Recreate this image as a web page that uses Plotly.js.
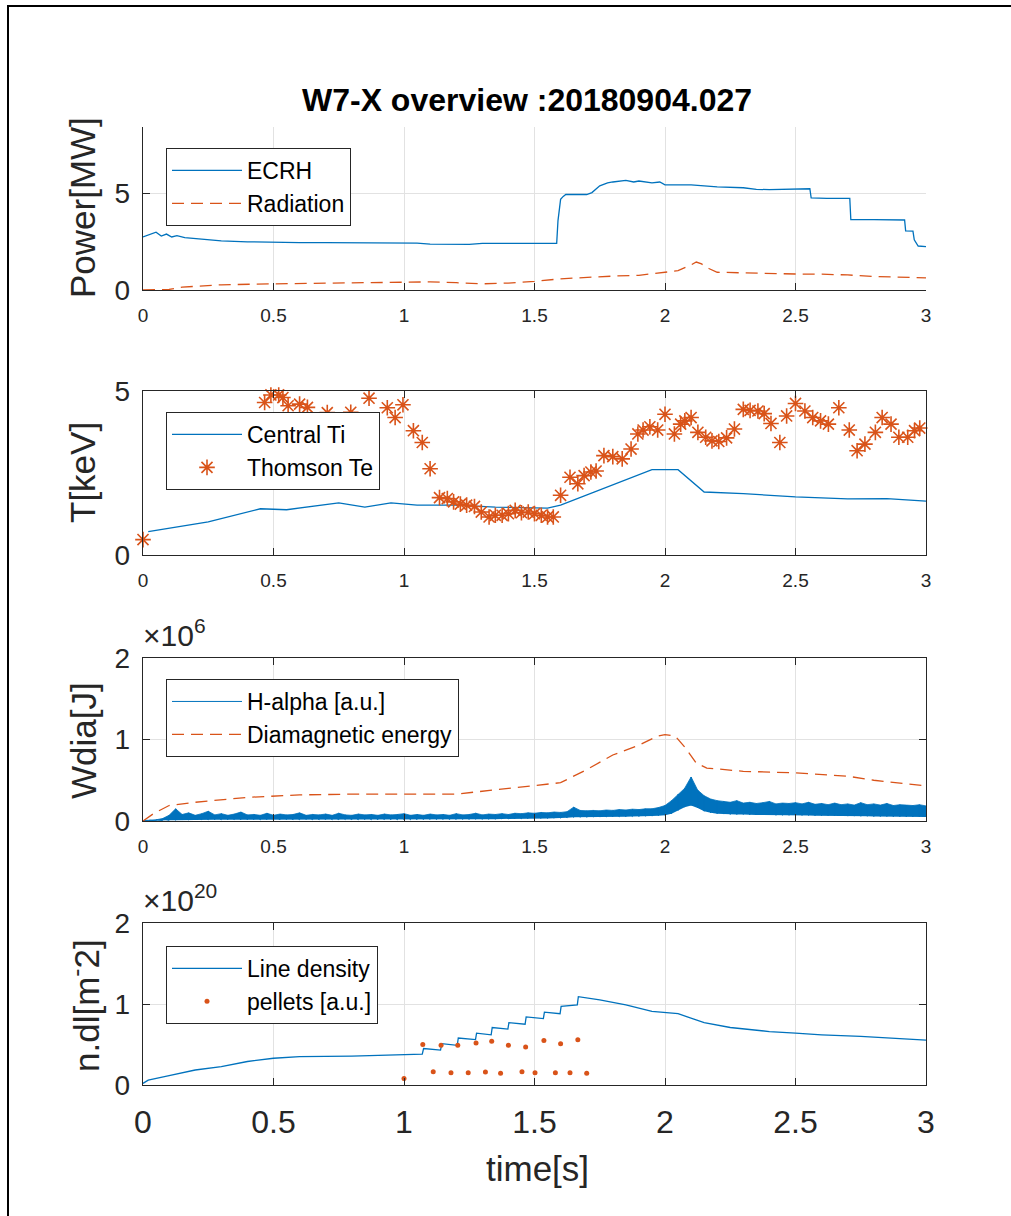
<!DOCTYPE html>
<html>
<head>
<meta charset="utf-8">
<script src="https://cdn.plot.ly/plotly-3.0.1.min.js"></script>
<style>
html,body{margin:0;padding:0;background:#fff;overflow:hidden;}
#wrap{position:relative;width:1011px;height:1216px;overflow:hidden;}
#chart{position:absolute;left:0;top:0;width:1011px;height:1216px;}
#frameL{position:absolute;left:7px;top:5px;width:2px;height:1211px;background:#000;pointer-events:none;}
#frameT{position:absolute;left:7px;top:5px;width:1004px;height:2px;background:#000;pointer-events:none;}
</style>
</head>
<body>
<div id="wrap"><div id="chart"></div><div id="frameL"></div><div id="frameT"></div></div>
<script>
// ---------------- DATA ----------------
// Panel 1: Power [MW]
const ecrhT = [0, 0.02, 0.05, 0.07, 0.09, 0.11, 0.13, 0.16, 0.2, 0.25, 0.3, 0.4, 0.5, 0.6, 0.7, 0.8, 0.9, 1.0, 1.05, 1.1, 1.2, 1.25, 1.3, 1.4, 1.5, 1.585, 1.59, 1.595, 1.6, 1.61, 1.62, 1.65, 1.7, 1.72, 1.75, 1.78, 1.8, 1.85, 1.88, 1.9, 1.95, 1.98, 2.0, 2.1, 2.2, 2.3, 2.35, 2.4, 2.5, 2.555, 2.56, 2.62, 2.708, 2.712, 2.8, 2.918, 2.922, 2.95, 2.955, 2.97, 3.0];
const ecrhV = [2.75, 2.85, 3.0, 2.8, 2.9, 2.75, 2.82, 2.72, 2.68, 2.62, 2.55, 2.5, 2.47, 2.46, 2.46, 2.45, 2.45, 2.45, 2.43, 2.38, 2.37, 2.37, 2.42, 2.42, 2.42, 2.42, 3.6, 4.2, 4.7, 4.85, 4.95, 4.95, 4.95, 5.05, 5.4, 5.55, 5.6, 5.68, 5.6, 5.65, 5.55, 5.6, 5.45, 5.45, 5.35, 5.3, 5.22, 5.2, 5.22, 5.25, 4.78, 4.75, 4.75, 3.65, 3.65, 3.63, 3.07, 3.05, 2.6, 2.28, 2.25];
const radT = [0, 0.1, 0.15, 0.2, 0.3, 0.5, 0.7, 1.0, 1.1, 1.2, 1.3, 1.4, 1.5, 1.6, 1.7, 1.8, 1.9, 2.0, 2.05, 2.1, 2.12, 2.14, 2.17, 2.2, 2.3, 2.5, 2.6, 2.7, 2.8, 2.9, 3.0];
const radV = [0.0, 0.03, 0.15, 0.2, 0.27, 0.32, 0.35, 0.4, 0.42, 0.38, 0.32, 0.36, 0.45, 0.58, 0.66, 0.72, 0.76, 0.9, 1.0, 1.3, 1.45, 1.35, 1.1, 0.92, 0.88, 0.83, 0.82, 0.78, 0.7, 0.65, 0.63];

// Panel 2: T [keV]
const tiT = [0.02, 0.25, 0.45, 0.55, 0.75, 0.85, 0.95, 1.05, 1.2, 1.35, 1.55, 1.6, 1.95, 2.05, 2.15, 2.3, 2.5, 2.7, 2.85, 3.0];
const tiV = [0.71, 1.01, 1.41, 1.38, 1.59, 1.46, 1.59, 1.52, 1.52, 1.46, 1.43, 1.52, 2.6, 2.6, 1.92, 1.87, 1.77, 1.71, 1.72, 1.64];
const teT = [0, 0.466, 0.49, 0.52, 0.536, 0.556, 0.6, 0.63, 0.706, 0.796, 0.866, 0.936, 0.966, 0.996, 1.036, 1.07, 1.1, 1.136, 1.166, 1.19, 1.216, 1.24, 1.27, 1.296, 1.326, 1.35, 1.376, 1.4, 1.426, 1.45, 1.476, 1.5, 1.526, 1.55, 1.572, 1.6, 1.636, 1.666, 1.69, 1.716, 1.736, 1.766, 1.8, 1.836, 1.87, 1.896, 1.916, 1.942, 1.972, 2.0, 2.036, 2.06, 2.076, 2.1, 2.126, 2.156, 2.18, 2.206, 2.236, 2.266, 2.3, 2.326, 2.356, 2.38, 2.406, 2.44, 2.466, 2.5, 2.536, 2.566, 2.596, 2.626, 2.666, 2.706, 2.736, 2.766, 2.806, 2.832, 2.866, 2.896, 2.93, 2.956, 2.976];
const teV = [0.47, 4.65, 4.88, 4.88, 4.8, 4.55, 4.6, 4.5, 4.34, 4.35, 4.78, 4.49, 4.19, 4.58, 3.79, 3.43, 2.63, 1.75, 1.72, 1.62, 1.55, 1.52, 1.48, 1.31, 1.16, 1.21, 1.21, 1.26, 1.36, 1.29, 1.31, 1.26, 1.21, 1.16, 1.16, 1.82, 2.37, 2.17, 2.42, 2.53, 2.56, 3.03, 3.0, 2.93, 3.23, 3.69, 3.81, 3.91, 3.81, 4.29, 3.69, 3.99, 4.09, 4.19, 3.74, 3.59, 3.48, 3.46, 3.57, 3.84, 4.44, 4.41, 4.39, 4.31, 4.01, 3.43, 4.24, 4.62, 4.39, 4.19, 4.09, 3.99, 4.49, 3.81, 3.18, 3.38, 3.74, 4.19, 3.99, 3.59, 3.59, 3.79, 3.87];

// Panel 3: Wdia [J] (values in units of 1e6)
const haT = [0, 0.025, 0.05, 0.075, 0.1, 0.125, 0.15, 0.175, 0.2, 0.225, 0.25, 0.275, 0.3, 0.325, 0.35, 0.375, 0.4, 0.425, 0.45, 0.475, 0.5, 0.525, 0.55, 0.575, 0.6, 0.625, 0.65, 0.675, 0.7, 0.725, 0.75, 0.775, 0.8, 0.825, 0.85, 0.875, 0.9, 0.925, 0.95, 0.975, 1.0, 1.025, 1.05, 1.075, 1.1, 1.125, 1.15, 1.175, 1.2, 1.225, 1.25, 1.275, 1.3, 1.325, 1.35, 1.375, 1.4, 1.425, 1.45, 1.475, 1.5, 1.525, 1.55, 1.575, 1.6, 1.625, 1.65, 1.675, 1.7, 1.725, 1.75, 1.775, 1.8, 1.825, 1.85, 1.875, 1.9, 1.925, 1.95, 1.975, 2.0, 2.025, 2.05, 2.075, 2.1, 2.125, 2.15, 2.175, 2.2, 2.225, 2.25, 2.275, 2.3, 2.325, 2.35, 2.375, 2.4, 2.425, 2.45, 2.475, 2.5, 2.525, 2.55, 2.575, 2.6, 2.625, 2.65, 2.675, 2.7, 2.725, 2.75, 2.775, 2.8, 2.825, 2.85, 2.875, 2.9, 2.925, 2.95, 2.975, 3.0];
const haLo = [0.000, 0.000, 0.002, 0.005, 0.008, 0.010, 0.012, 0.012, 0.015, 0.015, 0.015, 0.015, 0.015, 0.015, 0.018, 0.015, 0.015, 0.018, 0.015, 0.018, 0.015, 0.015, 0.018, 0.015, 0.015, 0.018, 0.015, 0.015, 0.018, 0.015, 0.015, 0.018, 0.015, 0.015, 0.018, 0.015, 0.015, 0.018, 0.015, 0.015, 0.018, 0.015, 0.018, 0.018, 0.020, 0.018, 0.020, 0.018, 0.020, 0.020, 0.020, 0.022, 0.020, 0.022, 0.022, 0.025, 0.025, 0.028, 0.028, 0.030, 0.030, 0.032, 0.032, 0.035, 0.035, 0.040, 0.045, 0.045, 0.045, 0.048, 0.048, 0.050, 0.050, 0.052, 0.052, 0.055, 0.055, 0.058, 0.060, 0.065, 0.070, 0.090, 0.130, 0.170, 0.190, 0.160, 0.120, 0.100, 0.090, 0.085, 0.080, 0.080, 0.080, 0.075, 0.075, 0.075, 0.075, 0.070, 0.070, 0.070, 0.070, 0.068, 0.068, 0.065, 0.065, 0.065, 0.062, 0.062, 0.060, 0.060, 0.058, 0.058, 0.055, 0.055, 0.055, 0.052, 0.052, 0.050, 0.050, 0.050, 0.050];
const haHi = [0.005, 0.010, 0.015, 0.030, 0.070, 0.150, 0.080, 0.100, 0.070, 0.090, 0.120, 0.075, 0.090, 0.070, 0.085, 0.110, 0.075, 0.080, 0.070, 0.095, 0.070, 0.085, 0.075, 0.080, 0.100, 0.070, 0.080, 0.075, 0.085, 0.070, 0.095, 0.075, 0.070, 0.085, 0.075, 0.080, 0.070, 0.085, 0.075, 0.080, 0.090, 0.070, 0.080, 0.070, 0.085, 0.075, 0.080, 0.070, 0.090, 0.075, 0.080, 0.095, 0.075, 0.085, 0.080, 0.090, 0.080, 0.095, 0.090, 0.100, 0.095, 0.105, 0.100, 0.110, 0.105, 0.115, 0.170, 0.130, 0.125, 0.130, 0.125, 0.135, 0.130, 0.140, 0.135, 0.145, 0.140, 0.150, 0.150, 0.165, 0.190, 0.250, 0.330, 0.400, 0.540, 0.380, 0.310, 0.270, 0.250, 0.240, 0.230, 0.250, 0.220, 0.230, 0.215, 0.225, 0.240, 0.210, 0.220, 0.215, 0.225, 0.210, 0.230, 0.205, 0.215, 0.200, 0.220, 0.200, 0.210, 0.195, 0.225, 0.200, 0.210, 0.195, 0.215, 0.190, 0.200, 0.195, 0.190, 0.200, 0.185];
const wdT = [0, 0.04, 0.1, 0.2, 0.4, 0.6, 0.8, 1.0, 1.2, 1.4, 1.55, 1.6, 1.7, 1.8, 1.9, 1.97, 2.0, 2.04, 2.08, 2.12, 2.16, 2.3, 2.5, 2.7, 2.8, 3.0];
const wdV = [0, 0.09, 0.19, 0.23, 0.29, 0.32, 0.33, 0.33, 0.33, 0.4, 0.45, 0.47, 0.63, 0.81, 0.93, 1.04, 1.06, 1.04, 0.89, 0.71, 0.65, 0.61, 0.59, 0.55, 0.5, 0.43];

// Panel 4: n.dl [m^-2] (values in units of 1e20)
const neT = [0, 0.02, 0.1, 0.2, 0.3, 0.4, 0.5, 0.6, 0.8, 1.0, 1.07, 1.075, 1.14, 1.145, 1.204, 1.208, 1.274, 1.278, 1.334, 1.338, 1.398, 1.402, 1.464, 1.468, 1.534, 1.538, 1.598, 1.602, 1.664, 1.668, 1.75, 1.85, 1.95, 2.05, 2.15, 2.25, 2.4, 2.5, 2.6, 2.75, 2.9, 3.0];
const neV = [0.02, 0.06, 0.115, 0.185, 0.226, 0.29, 0.33, 0.35, 0.357, 0.37, 0.38, 0.45, 0.43, 0.51, 0.49, 0.58, 0.56, 0.64, 0.62, 0.71, 0.69, 0.77, 0.75, 0.84, 0.82, 0.9, 0.88, 0.97, 0.99, 1.09, 1.05, 0.99, 0.91, 0.88, 0.77, 0.71, 0.66, 0.64, 0.62, 0.6, 0.57, 0.555];
const pelT = [1.0, 1.072, 1.112, 1.142, 1.18, 1.206, 1.246, 1.276, 1.312, 1.336, 1.37, 1.4, 1.452, 1.466, 1.502, 1.536, 1.58, 1.6, 1.636, 1.666, 1.7];
const pelV = [0.08, 0.50, 0.164, 0.49, 0.152, 0.49, 0.152, 0.52, 0.16, 0.54, 0.144, 0.49, 0.164, 0.47, 0.152, 0.55, 0.152, 0.51, 0.152, 0.56, 0.144];

// Tick labels
const xTicks = [0, 0.5, 1, 1.5, 2, 2.5, 3];
const xTickText = ['0', '0.5', '1', '1.5', '2', '2.5', '3'];

// ---------------- LAYOUT ----------------
const W = 1011, H = 1216;
const FONT = 'Liberation Sans, Arial, Helvetica, sans-serif';
const BLUE = '#0072BD', ORANGE = '#D95319', AX = '#262626', GRID = '#e2e2e2';
const px = v => v / W, py = v => 1 - v / H;
const xDom = [px(143), px(926)];

// build H-alpha zigzag from the envelope arrays
const haZx = [], haZy = [];
haT.forEach((t, i) => { haZx.push(t, t); haZy.push(haLo[i], haHi[i]); });

function xax(anchor, big, box) {
  return {
    domain: xDom, anchor: anchor, range: [0, 3],
    tickvals: xTicks, ticktext: xTickText,
    tickfont: {family: FONT, size: big ? 32 : 19, color: AX},
    ticks: 'inside', ticklen: 7, tickcolor: AX,
    showline: true, linecolor: AX, linewidth: 1.2, mirror: box ? 'ticks' : false,
    showgrid: true, gridcolor: GRID, zeroline: false,
    ticklabelstandoff: 8
  };
}
function yax(anchor, dom, range, vals, box) {
  return {
    domain: dom, anchor: anchor, range: range,
    tickvals: vals, ticktext: vals.map(String),
    tickfont: {family: FONT, size: 28, color: AX},
    ticks: 'inside', ticklen: 7, tickcolor: AX,
    showline: true, linecolor: AX, linewidth: 1.2, mirror: box ? 'ticks' : false,
    showgrid: true, gridcolor: GRID, zeroline: false,
    ticklabelstandoff: 6
  };
}

const legBase = {
  xanchor: 'left', yanchor: 'top', x: px(166),
  bgcolor: '#ffffff', bordercolor: AX, borderwidth: 1,
  font: {family: FONT, size: 23, color: '#000'},
  itemwidth: 70, tracegroupgap: 0, traceorder: 'normal'
};

const traces = [
  {x: ecrhT, y: ecrhV, xaxis: 'x', yaxis: 'y', type: 'scatter', mode: 'lines', name: 'ECRH',
   line: {color: BLUE, width: 1.3}, legend: 'legend'},
  {x: radT, y: radV, xaxis: 'x', yaxis: 'y', type: 'scatter', mode: 'lines', name: 'Radiation',
   line: {color: ORANGE, width: 1.3, dash: '12px,7px'}, legend: 'legend'},

  {x: tiT, y: tiV, xaxis: 'x2', yaxis: 'y2', type: 'scatter', mode: 'lines', name: 'Central Ti',
   line: {color: BLUE, width: 1.3}, legend: 'legend2'},
  {x: teT, y: teV, xaxis: 'x2', yaxis: 'y2', type: 'scatter', mode: 'markers', name: 'Thomson Te',
   marker: {symbol: 'asterisk-open', size: 13, color: ORANGE, line: {color: ORANGE, width: 1.6}},
   cliponaxis: false, legend: 'legend2'},

  {x: haT, y: haLo, xaxis: 'x3', yaxis: 'y3', type: 'scatter', mode: 'lines',
   line: {color: BLUE, width: 0}, showlegend: false, hoverinfo: 'skip', legend: 'legend3'},
  {x: haT, y: haHi, xaxis: 'x3', yaxis: 'y3', type: 'scatter', mode: 'lines', fill: 'tonexty',
   fillcolor: BLUE, line: {color: BLUE, width: 0.8}, showlegend: false, hoverinfo: 'skip', legend: 'legend3'},
  {x: haZx, y: haZy, xaxis: 'x3', yaxis: 'y3', type: 'scatter', mode: 'lines', name: 'H-alpha [a.u.]',
   line: {color: BLUE, width: 1}, legend: 'legend3'},
  {x: wdT, y: wdV, xaxis: 'x3', yaxis: 'y3', type: 'scatter', mode: 'lines', name: 'Diamagnetic energy',
   line: {color: ORANGE, width: 1.3, dash: '12px,7px'}, legend: 'legend3'},

  {x: neT, y: neV, xaxis: 'x4', yaxis: 'y4', type: 'scatter', mode: 'lines', name: 'Line density',
   line: {color: BLUE, width: 1.3}, legend: 'legend4'},
  {x: pelT, y: pelV, xaxis: 'x4', yaxis: 'y4', type: 'scatter', mode: 'markers', name: 'pellets [a.u.]',
   marker: {symbol: 'circle', size: 5, color: ORANGE}, legend: 'legend4'}
];

const layout = {
  width: W, height: H,
  margin: {l: 0, r: 0, t: 0, b: 0},
  paper_bgcolor: '#ffffff', plot_bgcolor: '#ffffff',
  showlegend: true,
  title: {text: 'W7-X overview :20180904.027', x: px(527), xref: 'paper', y: py(100), yref: 'paper',
          xanchor: 'center', yanchor: 'middle',
          font: {family: FONT, size: 32, color: '#000', weight: 'bold'}},
  xaxis: xax('y', false, false),
  yaxis: yax('x', [py(290), py(127)], [0, 8.45], [0, 5], false),
  xaxis2: xax('y2', false, true),
  yaxis2: yax('x2', [py(555), py(391)], [0, 5], [0, 5], true),
  xaxis3: xax('y3', false, true),
  yaxis3: yax('x3', [py(821), py(658)], [0, 2], [0, 1, 2], true),
  xaxis4: xax('y4', true, true),
  yaxis4: yax('x4', [py(1085), py(923)], [0, 2], [0, 1, 2], true),
  legend: Object.assign({}, legBase, {y: py(148)}),
  legend2: Object.assign({}, legBase, {y: py(412)}),
  legend3: Object.assign({}, legBase, {y: py(679)}),
  legend4: Object.assign({}, legBase, {y: py(946)}),
  annotations: [
    {text: 'Power[MW]', xref: 'paper', yref: 'paper', x: px(83), y: py(208), textangle: -90,
     showarrow: false, xanchor: 'center', yanchor: 'middle', font: {family: FONT, size: 35, color: AX}},
    {text: 'T[keV]', xref: 'paper', yref: 'paper', x: px(83), y: py(473), textangle: -90,
     showarrow: false, xanchor: 'center', yanchor: 'middle', font: {family: FONT, size: 35, color: AX}},
    {text: 'Wdia[J]', xref: 'paper', yref: 'paper', x: px(83), y: py(741), textangle: -90,
     showarrow: false, xanchor: 'center', yanchor: 'middle', font: {family: FONT, size: 35, color: AX}},
    {text: 'n.dl[m<sup>-</sup>2]', xref: 'paper', yref: 'paper', x: px(84), y: py(1006), textangle: -90,
     showarrow: false, xanchor: 'center', yanchor: 'middle', font: {family: FONT, size: 35, color: AX}},
    {text: 'time[s]', xref: 'paper', yref: 'paper', x: px(537), y: py(1168),
     showarrow: false, xanchor: 'center', yanchor: 'middle', font: {family: FONT, size: 35, color: AX}},
    {text: '×10<sup>6</sup>', xref: 'paper', yref: 'paper', x: px(141), y: py(654),
     showarrow: false, xanchor: 'left', yanchor: 'bottom', font: {family: FONT, size: 30, color: AX}},
    {text: '×10<sup>20</sup>', xref: 'paper', yref: 'paper', x: px(141), y: py(919),
     showarrow: false, xanchor: 'left', yanchor: 'bottom', font: {family: FONT, size: 30, color: AX}}
  ]
};

Plotly.newPlot('chart', traces, layout, {staticPlot: true, displayModeBar: false});
</script>
</body>
</html>
